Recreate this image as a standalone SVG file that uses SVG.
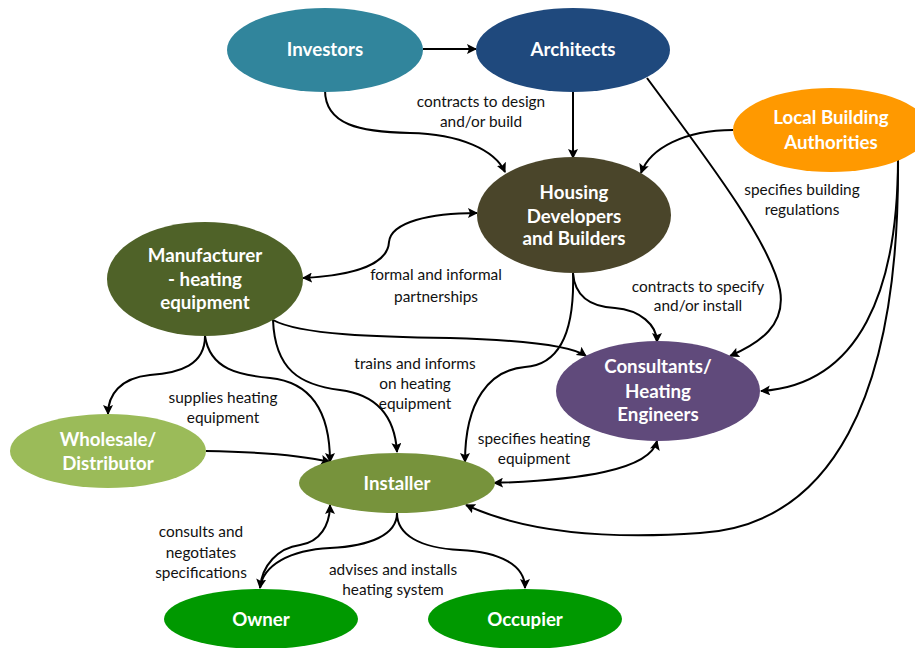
<svg xmlns="http://www.w3.org/2000/svg" width="915" height="648" viewBox="0 0 915 648">
<style>
.n{font-family:Lato,"Open Sans","Liberation Sans",sans-serif;font-weight:bold;font-size:18.7px;fill:#fff;text-anchor:middle}
.l{font-family:Lato,"Open Sans","Liberation Sans",sans-serif;font-size:15.4px;fill:#111;text-anchor:middle}
.c{fill:none;stroke:#000;stroke-width:2}
</style>
<defs>
<marker id="a" viewBox="0 0 10 10" refX="9" refY="5" markerWidth="10" markerHeight="10" markerUnits="userSpaceOnUse" orient="auto-start-reverse">
<path d="M0,0 L10,5 L0,10 L2,5 z" fill="#000"/>
</marker>
</defs>
<rect width="915" height="648" fill="#fff"/>
<g id="connectors">
<path class="c" d="M423,49 L476,49" marker-end="url(#a)"/>
<path class="c" d="M325,90 C325,125 360,132 410,133 C460,134 495,150 505,172" marker-end="url(#a)"/>
<path class="c" d="M573,92 L573,158" marker-end="url(#a)"/>
<path class="c" d="M647,78 C700,150 770,240 780,290 C786,325 760,343 730,356" marker-end="url(#a)"/>
<path class="c" d="M733,130 C685,130 650,148 641,173" marker-end="url(#a)"/>
<path class="c" d="M898,158 C898,290 860,385 761,391" marker-end="url(#a)"/>
<path class="c" d="M898,158 C900,400 830,525 700,533 C600,540 520,530 466,505" marker-end="url(#a)"/>
<path class="c" d="M303,278 C360,275 388,262 389,242 C391,222 430,213 477,213" marker-start="url(#a)" marker-end="url(#a)"/>
<path class="c" d="M273,320 C300,335 380,337 450,338 C520,340 570,345 586,356" marker-end="url(#a)"/>
<path class="c" d="M273,320 C275,370 300,385 340,390 C380,395 395,420 397,452" marker-end="url(#a)"/>
<path class="c" d="M205,336 C205,365 180,373 150,375 C120,378 108,395 108,414" marker-end="url(#a)"/>
<path class="c" d="M205,336 C210,370 240,375 270,378 C310,382 330,410 330,462" marker-end="url(#a)"/>
<path class="c" d="M206,451 C260,452 300,455 330,462" marker-end="url(#a)"/>
<path class="c" d="M573,273 C575,300 595,307 615,308 C640,310 657,325 657,342" marker-end="url(#a)"/>
<path class="c" d="M573,273 C575,340 555,365 525,367 C490,370 465,400 465,462" marker-end="url(#a)"/>
<path class="c" d="M494,483 C580,480 650,470 657,441" marker-start="url(#a)" marker-end="url(#a)"/>
<path class="c" d="M397,513 C397,535 370,546 330,548 C290,550 263,565 260,588" marker-end="url(#a)"/>
<path class="c" d="M260,588 C262,565 278,548 300,545 C320,542 330,525 330,505" marker-end="url(#a)"/>
<path class="c" d="M397,513 C397,535 420,548 460,550 C500,552 525,565 525,588" marker-end="url(#a)"/>
</g>
<g id="labels">
<text class="l" x="481" y="107">contracts to design</text>
<text class="l" x="481" y="127">and/or build</text>
<text class="l" x="802" y="195">specifies building</text>
<text class="l" x="802" y="215">regulations</text>
<text class="l" x="436" y="280">formal and informal</text>
<text class="l" x="436" y="302">partnerships</text>
<text class="l" x="698" y="292">contracts to specify</text>
<text class="l" x="698" y="311">and/or install</text>
<text class="l" x="415" y="369">trains and informs</text>
<text class="l" x="415" y="389">on heating</text>
<text class="l" x="415" y="409">equipment</text>
<text class="l" x="223" y="403">supplies heating</text>
<text class="l" x="223" y="423">equipment</text>
<text class="l" x="534" y="444">specifies heating</text>
<text class="l" x="534" y="464">equipment</text>
<text class="l" x="201" y="537">consults and</text>
<text class="l" x="201" y="558">negotiates</text>
<text class="l" x="201" y="578">specifications</text>
<text class="l" x="393" y="575">advises and installs</text>
<text class="l" x="393" y="595">heating system</text>
</g>
<g id="investors"><ellipse cx="325" cy="50" rx="98" ry="42" fill="#31859C"/><text class="n" x="325" y="56">Investors</text></g>
<g id="architects"><ellipse cx="573" cy="50" rx="97" ry="42" fill="#1F497D"/><text class="n" x="573" y="56">Architects</text></g>
<g id="lba"><ellipse cx="831" cy="130" rx="98" ry="42" fill="#FF9900"/><text class="n" x="831" y="124">Local Building</text><text class="n" x="831" y="149">Authorities</text></g>
<g id="housing"><ellipse cx="574" cy="215" rx="97" ry="58" fill="#4A452A"/><text class="n" x="574" y="199">Housing</text><text class="n" x="574" y="223">Developers</text><text class="n" x="574" y="245">and Builders</text></g>
<g id="manufacturer"><ellipse cx="205" cy="279" rx="98" ry="57" fill="#4F6228"/><text class="n" x="205" y="262">Manufacturer</text><text class="n" x="205" y="286">- heating</text><text class="n" x="205" y="309">equipment</text></g>
<g id="consultants"><ellipse cx="658" cy="391" rx="102" ry="50" fill="#604A7B"/><text class="n" x="658" y="373">Consultants/</text><text class="n" x="658" y="398">Heating</text><text class="n" x="658" y="421">Engineers</text></g>
<g id="wholesale"><ellipse cx="108" cy="451" rx="98" ry="37" fill="#9BBB59"/><text class="n" x="108" y="446">Wholesale/</text><text class="n" x="108" y="470">Distributor</text></g>
<g id="installer"><ellipse cx="397" cy="483" rx="98" ry="30" fill="#77933C"/><text class="n" x="397" y="490">Installer</text></g>
<g id="owner"><ellipse cx="261" cy="619" rx="97" ry="30" fill="#009900"/><text class="n" x="261" y="626">Owner</text></g>
<g id="occupier"><ellipse cx="525" cy="619" rx="97" ry="30" fill="#009900"/><text class="n" x="525" y="626">Occupier</text></g>
</svg>
